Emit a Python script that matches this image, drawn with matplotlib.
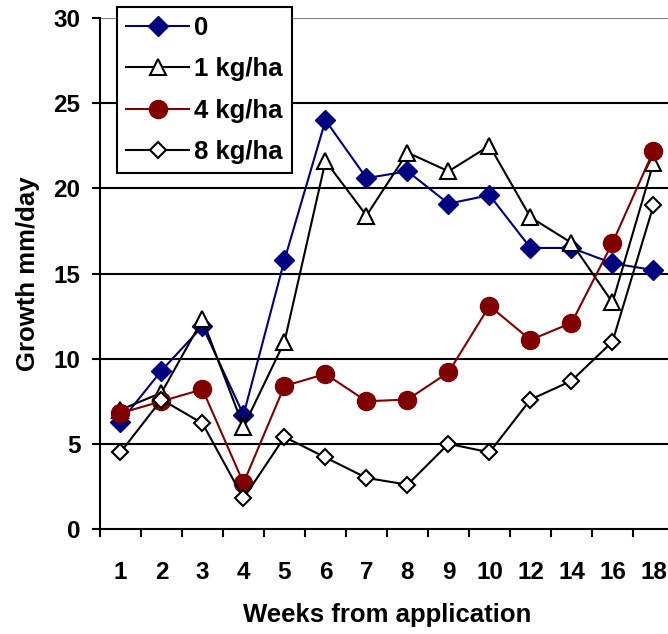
"""Weekly growth rate after application, four application rates."""
import matplotlib as mpl
import matplotlib.pyplot as plt
import numpy as np
from matplotlib.ticker import FixedLocator

mpl.rcParams.update(
    {
        "font.family": ["Liberation Sans", "DejaVu Sans"],
        "font.weight": "bold",
        "font.size": 17.5,
    }
)

WEEKS = ["1", "2", "3", "4", "5", "6", "7", "8", "9", "10", "12", "14", "16", "18"]
RATE_0 = [6.3, 9.3, 11.9, 6.7, 15.8, 24.0, 20.6, 21.0, 19.1, 19.6, 16.5, 16.5, 15.6, 15.2]
RATE_1 = [7.0, 8.0, 12.3, 6.0, 11.0, 21.6, 18.4, 22.1, 21.0, 22.5, 18.3, 16.8, 13.3, 21.5]
RATE_4 = [6.8, 7.5, 8.2, 2.7, 8.4, 9.1, 7.5, 7.6, 9.2, 13.1, 11.1, 12.1, 16.8, 22.2]
RATE_8 = [4.5, 7.6, 6.2, 1.8, 5.4, 4.2, 3.0, 2.6, 5.0, 4.5, 7.6, 8.7, 11.0, 19.0]

BLUE = "#000080"
RED = "#800000"

fig = plt.figure(figsize=(6.68, 6.34), dpi=100)
# plot area runs slightly past the right edge of the canvas
ax = fig.add_axes([100 / 668, 1 - 529 / 634, 574 / 668, 511 / 634])

x = np.arange(len(WEEKS))

for y in (5, 10, 15, 20, 25):
    ax.axhline(y, color="black", lw=1.5, zorder=1)
ax.axhline(30, color="#808080", lw=1.5, zorder=1)

ax.plot(x, RATE_0, color=BLUE, lw=1.5, marker="D", ms=10, mfc=BLUE, mec=BLUE, label="0", zorder=3)
ax.plot(x, RATE_1, color="black", lw=1.5, marker="^", ms=11, mfc="white", mec="black",
        mew=1.5, label="1 kg/ha", zorder=3)
ax.plot(x, RATE_4, color=RED, lw=1.5, marker="o", ms=13, mfc=RED, mec=RED, label="4 kg/ha", zorder=3)
ax.plot(x, RATE_8, color="black", lw=1.5, marker="D", ms=8.5, mfc="white", mec="black",
        mew=1.5, label="8 kg/ha", zorder=3)

ax.set_xlim(-0.5, len(WEEKS) - 0.5)
ax.set_ylim(0, 30)
ax.set_yticks([0, 5, 10, 15, 20, 25, 30])
ax.set_xticks(x)
ax.set_xticklabels(WEEKS)
ax.xaxis.set_minor_locator(FixedLocator(np.arange(len(WEEKS) + 1) - 0.5))
ax.tick_params(axis="x", which="major", length=0, pad=23, labelsize=17.5)
ax.tick_params(axis="x", which="minor", direction="out", length=6, width=1.5)
ax.tick_params(axis="y", direction="out", length=6, width=1.5, pad=8, labelsize=17.5)

for side in ("top", "right"):
    ax.spines[side].set_visible(False)
for side in ("left", "bottom"):
    ax.spines[side].set_linewidth(1.5)

ax.set_xlabel("Weeks from application", fontsize=18.5, fontweight="bold", labelpad=14)
ax.set_ylabel("Growth mm/day", fontsize=18.5, fontweight="bold", labelpad=10)

leg = ax.legend(
    loc="upper left",
    bbox_to_anchor=(117 / 668, 1 - 7 / 634),
    bbox_transform=fig.transFigure,
    borderaxespad=0,
    frameon=True,
    fancybox=False,
    edgecolor="black",
    framealpha=1,
    fontsize=18.5,
    handlelength=2.45,
    handletextpad=0.2,
    labelspacing=0.67,
    borderpad=0.36,
)
leg.get_frame().set_linewidth(1.5)
leg.set_zorder(5)

fig.savefig("out.png", dpi=100)
